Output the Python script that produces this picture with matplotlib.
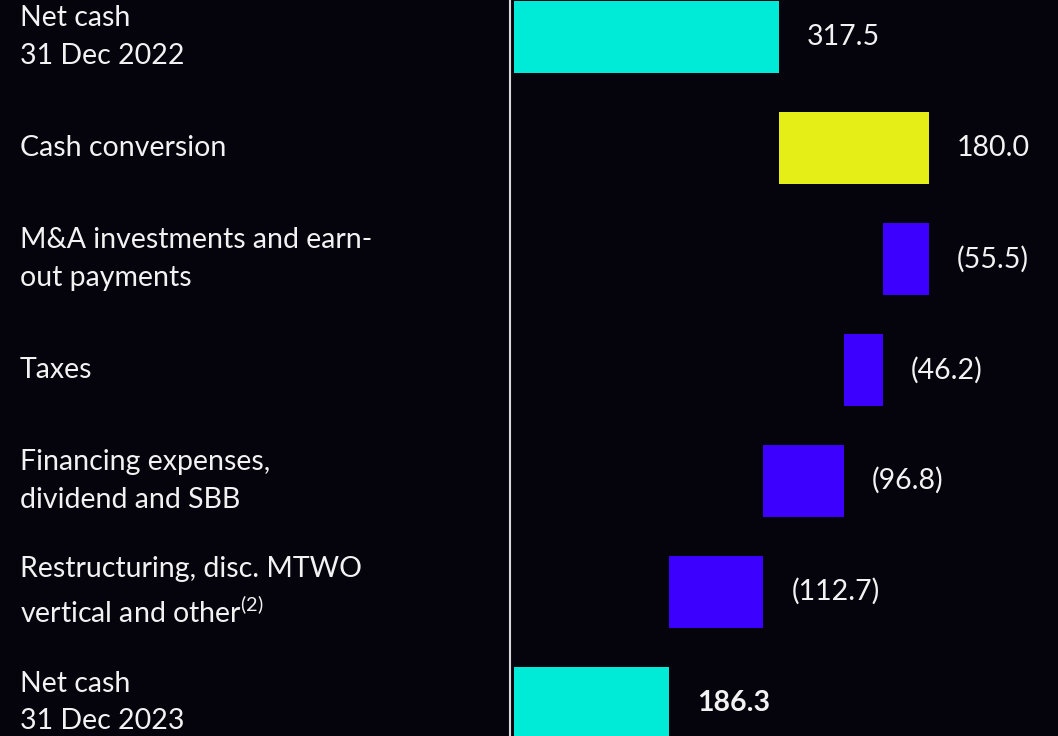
import matplotlib.pyplot as plt
import matplotlib.transforms as mtransforms

plt.rcParams["font.family"] = ["Lato", "DejaVu Sans"]
plt.rcParams["mathtext.fontset"] = "custom"
plt.rcParams["mathtext.rm"] = "Lato"

BG = "#05040d"
TEXT_COLOR = "#f2f2f2"

labels = [
    "Net cash\n31 Dec 2022",
    "Cash conversion",
    "M&A investments and earn-\nout payments",
    "Taxes",
    "Financing expenses,\ndividend and SBB",
    "Restructuring, disc. MTWO\nvertical and other$^{\\mathrm{(2)}}$",
    "Net cash\n31 Dec 2023",
]
values = [317.5, 180.0, -55.5, -46.2, -96.8, -112.7, 186.3]
value_labels = ["317.5", "180.0", "(55.5)", "(46.2)", "(96.8)", "(112.7)", "186.3"]
kinds = ["total", "delta", "delta", "delta", "delta", "delta", "total"]

colors = {"total": "#00ebd7", "up": "#e5ee16", "down": "#3c00ff"}


def waterfall_segments(values, kinds):
    # left edge, width and colour key for every bar
    segs = []
    running = 0.0
    for v, k in zip(values, kinds):
        if k == "total":
            segs.append((0.0, v, "total"))
            running = v
        elif v >= 0:
            segs.append((running, v, "up"))
            running += v
        else:
            segs.append((running + v, -v, "down"))
            running += v
    return segs


fig = plt.figure(figsize=(10.58, 7.36), dpi=100, facecolor=BG)
ax = fig.add_axes([510 / 1058, 0, 548 / 1058, 1])
ax.set_facecolor(BG)

segs = waterfall_segments(values, kinds)
for i, (left, width, key) in enumerate(segs):
    ax.barh(i, width, left=left, height=0.65, color=colors[key])
    right = left + width
    bold = i == len(segs) - 1
    ax.annotate(value_labels[i], (right, i), xytext=(20, 0), textcoords="offset points",
                va="center", ha="left", color=TEXT_COLOR, fontsize=20.5,
                fontweight="bold" if bold else "normal")

ax.set_xlim(-4.8, 652)
ax.set_ylim(6.3, -0.333)
ax.set_xticks([])
ax.set_yticks([])
for side in ["top", "right", "bottom"]:
    ax.spines[side].set_visible(False)
ax.spines["left"].set_color("#d9d9d9")
ax.spines["left"].set_linewidth(1.5)

# category names sit in the left margin, aligned to each row
trans = mtransforms.blended_transform_factory(fig.transFigure, ax.transData)
for i, lab in enumerate(labels):
    fig.text(20 / 1058, i, lab, transform=trans, va="center", ha="left",
             color=TEXT_COLOR, fontsize=20.5, linespacing=1.55)

fig.savefig("out.png", dpi=100, facecolor=BG)
